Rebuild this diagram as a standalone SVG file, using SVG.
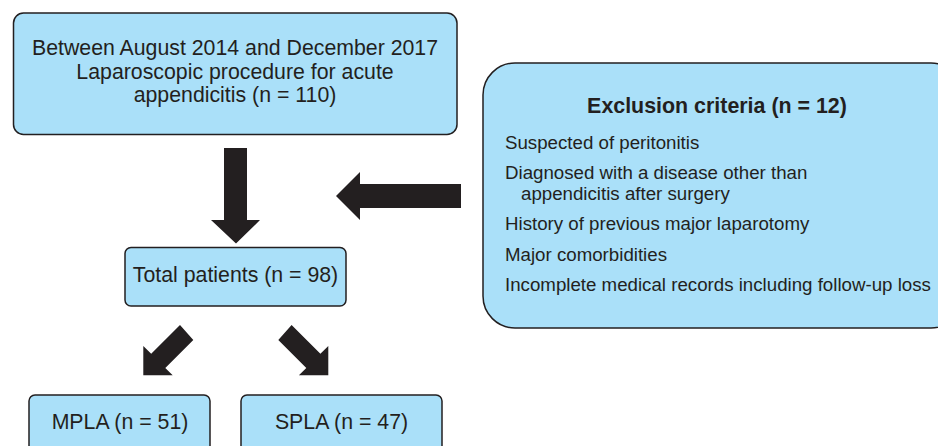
<svg xmlns="http://www.w3.org/2000/svg" width="938" height="446" viewBox="0 0 938 446">
<style>
.box{fill:#aae0f9;stroke:#231f20;stroke-width:1.5}
.t{font-family:"Liberation Sans",Arial,sans-serif;font-size:21.3px;fill:#231f20}
.s{font-family:"Liberation Sans",Arial,sans-serif;font-size:18.7px;fill:#231f20}
.b{font-family:"Liberation Sans",Arial,sans-serif;font-size:21.4px;font-weight:bold;fill:#231f20}
.arr{fill:#231f20}
</style>
<rect width="938" height="446" fill="#fff"/>
<g id="node-start">
<rect class="box" x="13.5" y="13" width="443.5" height="121.5" rx="10"/>
<text class="t" text-anchor="middle" x="235" y="55">Between August 2014 and December 2017</text>
<text class="t" text-anchor="middle" x="235" y="79">Laparoscopic procedure for acute</text>
<text class="t" text-anchor="middle" x="235" y="102">appendicitis (n = 110)</text>
</g>
<g id="node-exclusion">
<rect class="box" x="483" y="63" width="480" height="265" rx="32"/>
<text class="b" text-anchor="middle" x="717" y="113">Exclusion criteria (n = 12)</text>
<text class="s" x="505" y="149">Suspected of peritonitis</text>
<text class="s" x="505" y="179">Diagnosed with a disease other than</text>
<text class="s" x="521" y="200">appendicitis after surgery</text>
<text class="s" x="505" y="230">History of previous major laparotomy</text>
<text class="s" x="505" y="261">Major comorbidities</text>
<text class="s" x="505" y="291">Incomplete medical records including follow-up loss</text>
</g>
<g id="node-total">
<rect class="box" x="125" y="247.5" width="221" height="58.5" rx="6"/>
<text class="t" text-anchor="middle" x="235.5" y="282">Total patients (n = 98)</text>
</g>
<g id="node-mpla">
<rect class="box" x="29" y="395" width="181" height="70" rx="6"/>
<text class="t" text-anchor="middle" x="120" y="429">MPLA (n = 51)</text>
</g>
<g id="node-spla">
<rect class="box" x="241" y="395" width="201" height="70" rx="6"/>
<text class="t" text-anchor="middle" x="341.5" y="429">SPLA (n = 47)</text>
</g>
<g id="connectors">
<polygon class="arr" points="224,148 247,148 247,220 260,220 236,243.5 211,220 224,220"/>
<polygon class="arr" points="461,184 461,208 360,208 360,220 336,196 360,172 360,184"/>
<polygon class="arr" points="180,325 193.3,340 165.3,368 172.7,375.3 143.3,375.3 143.3,346 151.2,353.8"/>
<polygon class="arr" transform="translate(471.6,0) scale(-1,1)" points="180,325 193.3,340 165.3,368 172.7,375.3 143.3,375.3 143.3,346 151.2,353.8"/>
</g>
</svg>
